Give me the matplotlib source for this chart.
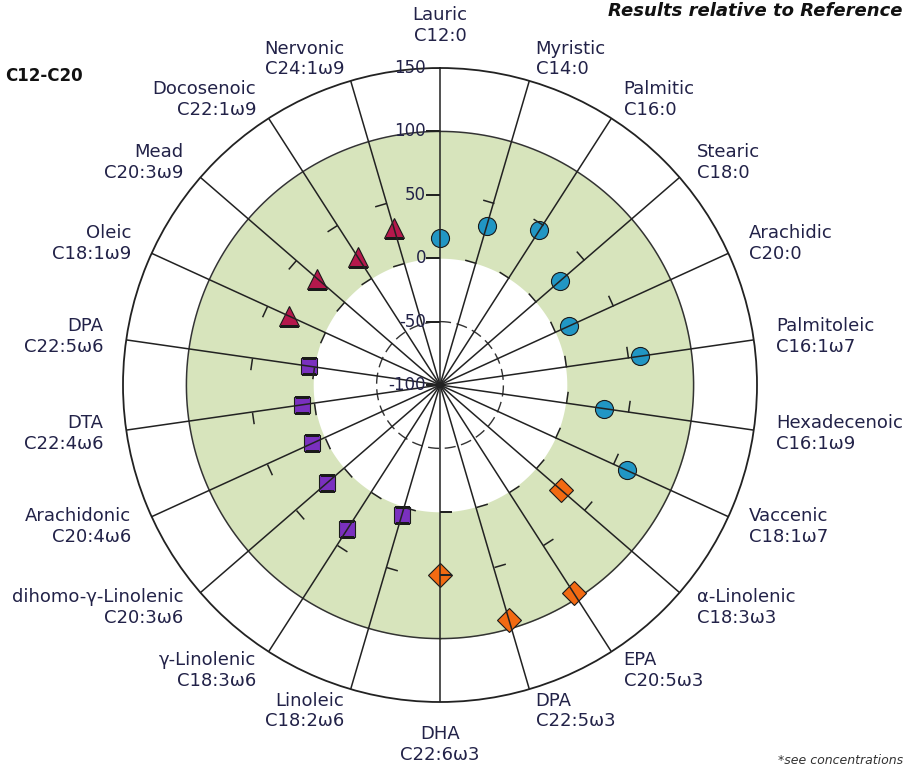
import numpy as np
import matplotlib.pyplot as plt
from matplotlib.markers import MarkerStyle
from matplotlib.transforms import Affine2D

# spokes, clockwise from the top
acid_names = ['Lauric', 'Myristic', 'Palmitic', 'Stearic', 'Arachidic', 'Palmitoleic',
              'Hexadecenoic', 'Vaccenic', 'α-Linolenic', 'EPA', 'DPA', 'DHA',
              'Linoleic', 'γ-Linolenic', 'dihomo-γ-Linolenic', 'Arachidonic', 'DTA', 'DPA',
              'Oleic', 'Mead', 'Docosenoic', 'Nervonic']
acid_codes = ['C12:0', 'C14:0', 'C16:0', 'C18:0', 'C20:0', 'C16:1ω7',
              'C16:1ω9', 'C18:1ω7', 'C18:3ω3', 'C20:5ω3', 'C22:5ω3', 'C22:6ω3',
              'C18:2ω6', 'C18:3ω6', 'C20:3ω6', 'C20:4ω6', 'C22:4ω6', 'C22:5ω6',
              'C18:1ω9', 'C20:3ω9', 'C22:1ω9', 'C24:1ω9']
# results relative to reference
results = [16, 31, 45, 25, 12, 59,
           31, 62, 26, 95, 93, 50,
           7, 35, 18, 11, 10, 4,
           31, 28, 20, 29]
families = ['other'] * 8 + ['omega3'] * 4 + ['omega6'] * 6 + ['omega9'] * 4

ref_low, ref_high = 0, 100
spoke_marks = [0, 50]
r_ticks = [-100, -50, 0, 50, 100, 150]

styles = {
    'other': dict(marker='o', color='#2196c4', ms=13),
    'omega3': dict(marker='D', color='#f26a12', ms=12),
    'omega6': dict(marker='s', color='#7a30bf', ms=11.5),
    'omega9': dict(marker='^', color='#b5184c', ms=14),
}
txt_col = '#222248'
line_col = '#222222'

fig = plt.figure(figsize=(9.07, 7.70), dpi=100)
ax = fig.add_axes([123 / 907, 68 / 770, 634 / 907, 634 / 770], projection='polar')
ax.set_theta_zero_location('N')
ax.set_theta_direction(-1)
ax.set_ylim(-100, 150)
ax.grid(False)
ax.set_xticks([])
ax.set_yticks([])
ax.spines['polar'].set_color(line_col)
ax.spines['polar'].set_linewidth(1.3)

n = len(acid_names)
theta = 2 * np.pi * np.arange(n) / n
circ = np.linspace(0, 2 * np.pi, 500)

# reference band
ax.fill_between(circ, ref_low, ref_high, color='#d7e4bc', lw=0, zorder=1)
ax.plot(circ, np.full_like(circ, ref_high), color='#333333', lw=1.1, zorder=2)
ax.plot(circ, np.full_like(circ, -50), color='#333333', lw=1.0, ls=(0, (8, 4)), zorder=2)

# data markers (under the spokes, like the original)
for fam, st in styles.items():
    idx = [i for i, f in enumerate(families) if f == fam]
    ax.plot(theta[idx], [results[i] for i in idx], ls='none', marker=st['marker'],
            ms=st['ms'], mfc=st['color'], mec='#1a1a1a', mew=0.8, zorder=3)

# spokes
for t in theta:
    ax.plot([t, t], [-100, 150], color=line_col, lw=1.1, zorder=4)

# small ticks on each spoke
for t in theta[1:]:
    mk = MarkerStyle([(0, 0), (1, 0)], transform=Affine2D().rotate(np.pi - t))
    ax.plot([t] * len(spoke_marks), spoke_marks, ls='none', marker=mk, ms=17,
            mec=line_col, mew=1.1, mfc='none', zorder=4)

# radial axis on the top spoke
mk = MarkerStyle([(0, 0), (1, 0)], transform=Affine2D().rotate(np.pi))
ax.plot([0] * len(r_ticks), r_ticks, ls='none', marker=mk, ms=20,
        mec=line_col, mew=1.1, mfc='none', zorder=4)
for v in r_ticks:
    ax.annotate(str(v), xy=(0, v), xytext=(-14, 0), textcoords='offset pixels',
                ha='right', va='center', fontsize=12, color=txt_col, zorder=5)

# spoke labels
for t, name, code in zip(theta, acid_names, acid_codes):
    s, c = np.sin(t), np.cos(t)
    if abs(s) < 1e-6:
        ha, va = 'center', ('bottom' if c > 0 else 'top')
    else:
        ha, va = ('left' if s > 0 else 'right'), 'center'
    ax.text(t, 168, f'{name}\n{code}', ha=ha, va=va, fontsize=13, color=txt_col)

fig.text(5 / 907, 1 - 76 / 770, 'C12-C20', fontsize=12, fontweight='bold',
         ha='left', va='center', color='#111111')
fig.text(903 / 907, 1 - 16 / 770, 'Results relative to Reference', fontsize=13,
         fontweight='bold', fontstyle='italic',
         ha='right', va='baseline', color='#111111')
fig.text(903 / 907, 1 - 764 / 770, '*see concentrations', fontsize=9,
         fontstyle='italic', ha='right', va='baseline', color='#333333')

fig.savefig('out.png', dpi=100)
plt.close(fig)
